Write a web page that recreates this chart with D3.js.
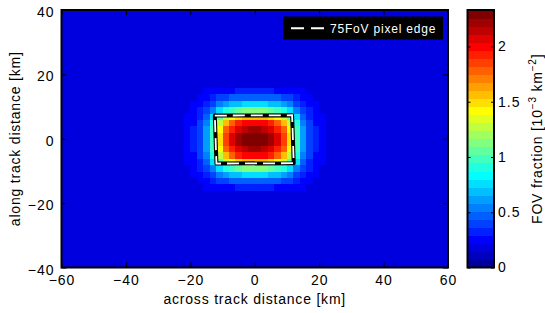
<!DOCTYPE html>
<html>
<head>
<meta charset="utf-8">
<script src="https://cdn.jsdelivr.net/npm/d3@7/dist/d3.min.js"></script>
<style>
body { margin: 0; background: #fff; }
text { font-family: "Liberation Sans", Arial, sans-serif; }
</style>
</head>
<body>
<div id="chart"></div>
<script>
const width = 545, height = 313;
const plot = {left: 61.5, right: 448, top: 10, bottom: 267.5};
const bar = {left: 467.5, right: 494};

// data
const xTicks = [-60, -40, -20, 0, 20, 40, 60];
const yTicks = [-40, -20, 0, 20, 40];
const cTicks = [0, 0.5, 1, 1.5, 2];
const colorMax = 2.33;
const background = 0.2;
const coreX = [-21, -19, -17, -15, -13, -11, -9, -7, -5, -3, -1, 1, 3, 5, 7, 9, 11, 13, 15, 17, 19, 21];
const coreY = [15, 13, 11, 9, 7, 5, 3, 1, -1, -3, -5, -7, -9, -11, -13, -15];
const coreValues = [
    [0.20, 0.21, 0.21, 0.22, 0.24, 0.27, 0.28, 0.29, 0.30, 0.30, 0.31, 0.31, 0.30, 0.30, 0.29, 0.28, 0.27, 0.24, 0.22, 0.21, 0.21, 0.20],
    [0.20, 0.21, 0.23, 0.26, 0.30, 0.37, 0.41, 0.44, 0.46, 0.47, 0.47, 0.47, 0.47, 0.46, 0.44, 0.41, 0.37, 0.30, 0.26, 0.23, 0.21, 0.20],
    [0.21, 0.23, 0.26, 0.31, 0.41, 0.54, 0.63, 0.68, 0.72, 0.74, 0.75, 0.75, 0.74, 0.72, 0.68, 0.63, 0.54, 0.41, 0.31, 0.26, 0.23, 0.21],
    [0.21, 0.25, 0.30, 0.39, 0.55, 0.77, 0.92, 1.01, 1.08, 1.11, 1.12, 1.12, 1.11, 1.08, 1.01, 0.92, 0.77, 0.55, 0.39, 0.30, 0.25, 0.21],
    [0.22, 0.27, 0.35, 0.49, 0.73, 1.06, 1.28, 1.42, 1.52, 1.57, 1.59, 1.59, 1.57, 1.52, 1.42, 1.28, 1.06, 0.73, 0.49, 0.35, 0.27, 0.22],
    [0.23, 0.29, 0.39, 0.57, 0.88, 1.31, 1.59, 1.77, 1.90, 1.97, 1.99, 1.99, 1.97, 1.90, 1.77, 1.59, 1.31, 0.88, 0.57, 0.39, 0.29, 0.23],
    [0.23, 0.30, 0.41, 0.62, 0.96, 1.44, 1.76, 1.96, 2.10, 2.18, 2.20, 2.20, 2.18, 2.10, 1.96, 1.76, 1.44, 0.96, 0.62, 0.41, 0.30, 0.23],
    [0.23, 0.31, 0.42, 0.64, 1.00, 1.50, 1.84, 2.05, 2.20, 2.28, 2.30, 2.30, 2.28, 2.20, 2.05, 1.84, 1.50, 1.00, 0.64, 0.42, 0.31, 0.23],
    [0.23, 0.31, 0.42, 0.64, 1.00, 1.50, 1.84, 2.05, 2.20, 2.28, 2.30, 2.30, 2.28, 2.20, 2.05, 1.84, 1.50, 1.00, 0.64, 0.42, 0.31, 0.23],
    [0.23, 0.30, 0.41, 0.62, 0.96, 1.44, 1.76, 1.96, 2.10, 2.18, 2.20, 2.20, 2.18, 2.10, 1.96, 1.76, 1.44, 0.96, 0.62, 0.41, 0.30, 0.23],
    [0.23, 0.29, 0.39, 0.57, 0.88, 1.31, 1.59, 1.77, 1.90, 1.97, 1.99, 1.99, 1.97, 1.90, 1.77, 1.59, 1.31, 0.88, 0.57, 0.39, 0.29, 0.23],
    [0.22, 0.27, 0.35, 0.49, 0.73, 1.06, 1.28, 1.42, 1.52, 1.57, 1.59, 1.59, 1.57, 1.52, 1.42, 1.28, 1.06, 0.73, 0.49, 0.35, 0.27, 0.22],
    [0.21, 0.25, 0.30, 0.39, 0.55, 0.77, 0.92, 1.01, 1.08, 1.11, 1.12, 1.12, 1.11, 1.08, 1.01, 0.92, 0.77, 0.55, 0.39, 0.30, 0.25, 0.21],
    [0.21, 0.23, 0.26, 0.31, 0.41, 0.54, 0.63, 0.68, 0.72, 0.74, 0.75, 0.75, 0.74, 0.72, 0.68, 0.63, 0.54, 0.41, 0.31, 0.26, 0.23, 0.21],
    [0.20, 0.21, 0.23, 0.26, 0.30, 0.37, 0.41, 0.44, 0.46, 0.47, 0.47, 0.47, 0.47, 0.46, 0.44, 0.41, 0.37, 0.30, 0.26, 0.23, 0.21, 0.20],
    [0.20, 0.21, 0.21, 0.22, 0.24, 0.27, 0.28, 0.29, 0.30, 0.30, 0.31, 0.31, 0.30, 0.30, 0.29, 0.28, 0.27, 0.24, 0.22, 0.21, 0.21, 0.20]
];
const pixelEdge = [[-12.4, 7.2], [11.6, 7.3], [12.1, -7.6], [-11.9, -7.7]];

// matlab style jet colormap with n levels
let jet = n => {
    let m = Math.ceil(n / 4);
    let u = [];
    for (let i = 1; i <= m; i++) u.push(i / m);
    for (let i = 1; i < m; i++) u.push(1);
    for (let i = m; i >= 1; i--) u.push(i / m);
    let off = Math.ceil(m / 2) - (n % 4 === 1 ? 1 : 0);
    let J = d3.range(n).map(() => [0, 0, 0]);
    u.forEach((val, k) => {
        let g = off + k + 1;
        if (g <= n) J[g - 1][1] = val;
        if (g + m <= n) J[g + m - 1][0] = val;
        if (g - m >= 1) J[g - m - 1][2] = val;
    });
    return J.map(c => d3.rgb(c[0] * 255, c[1] * 255, c[2] * 255).toString());
};

let svg = d3.select("#chart")
    .append("svg")
    .attr("width", width)
    .attr("height", height);

let x = d3.scaleLinear().domain([-60, 60]).range([plot.left, plot.right]);
let y = d3.scaleLinear().domain([-40, 40]).range([plot.bottom, plot.top]);
let c = d3.scaleLinear().domain([0, colorMax]).range([plot.bottom, plot.top]);
let color = d3.scaleQuantize().domain([0, colorMax]).range(jet(32));

// grid cells, 2 km
let lookup = new Map();
coreY.forEach((cy, i) => coreX.forEach((cx, j) => lookup.set(cx + "," + cy, coreValues[i][j])));
let cells = [];
d3.range(-59, 60, 2).forEach(cx => {
    d3.range(-39, 40, 2).forEach(cy => {
        let v = lookup.get(cx + "," + cy);
        cells.push({cx: cx, cy: cy, v: v === undefined ? background : v});
    });
});

svg.append("g")
    .attr("shape-rendering", "crispEdges")
    .selectAll("rect")
    .data(cells)
    .enter()
    .append("rect")
    .attr("x", d => x(d.cx - 1))
    .attr("y", d => y(d.cy + 1))
    .attr("width", d => x(d.cx + 1) - x(d.cx - 1) + 0.6)
    .attr("height", d => y(d.cy - 1) - y(d.cy + 1) + 0.6)
    .attr("fill", d => color(d.v));

// pixel edge outline
let edgeLine = d3.line()
    .x(d => x(d[0]))
    .y(d => y(d[1]))
    .curve(d3.curveLinearClosed);

svg.append("path")
    .attr("d", edgeLine(pixelEdge))
    .attr("fill", "none")
    .attr("stroke", "black")
    .attr("stroke-width", 4)
    .attr("stroke-linejoin", "round");

svg.append("path")
    .attr("d", edgeLine(pixelEdge))
    .attr("fill", "none")
    .attr("stroke", "white")
    .attr("stroke-width", 1.8)
    .attr("stroke-dasharray", "12,6");

// axes
let tickStyle = g => {
    g.select(".domain").remove();
    g.selectAll(".tick line").attr("stroke", "black").attr("stroke-width", 1);
    g.selectAll(".tick text")
        .attr("fill", "black")
        .style("font-size", "14px")
        .style("letter-spacing", "1px");
};

svg.append("g")
    .attr("transform", `translate(0, ${plot.bottom})`)
    .call(d3.axisBottom(x).tickValues(xTicks).tickSizeInner(-5).tickSizeOuter(0).tickPadding(8))
    .call(tickStyle);

svg.append("g")
    .attr("transform", `translate(0, ${plot.top})`)
    .call(d3.axisTop(x).tickValues(xTicks).tickSizeInner(-5).tickSizeOuter(0).tickFormat(""))
    .call(tickStyle);

svg.append("g")
    .attr("transform", `translate(${plot.left}, 0)`)
    .call(d3.axisLeft(y).tickValues(yTicks).tickSizeInner(-5).tickSizeOuter(0).tickPadding(7))
    .call(tickStyle)
    .selectAll(".tick text").attr("dy", "0.47em");

svg.append("g")
    .attr("transform", `translate(${plot.right}, 0)`)
    .call(d3.axisRight(y).tickValues(yTicks).tickSizeInner(-5).tickSizeOuter(0).tickFormat(""))
    .call(tickStyle);

svg.append("rect")
    .attr("x", plot.left)
    .attr("y", plot.top)
    .attr("width", plot.right - plot.left)
    .attr("height", plot.bottom - plot.top)
    .attr("fill", "none")
    .attr("stroke", "black")
    .attr("stroke-width", 2);

// legend
svg.append("rect")
    .attr("x", 283)
    .attr("y", 16.5)
    .attr("width", 160)
    .attr("height", 23)
    .attr("fill", "black");

svg.append("line")
    .attr("x1", 291)
    .attr("x2", 324)
    .attr("y1", 28.3)
    .attr("y2", 28.3)
    .attr("stroke", "white")
    .attr("stroke-width", 2)
    .attr("stroke-dasharray", "13,7");

svg.append("text")
    .attr("x", 330)
    .attr("y", 33)
    .attr("fill", "white")
    .style("font-size", "12px")
    .style("letter-spacing", "0.8px")
    .text("75FoV pixel edge");

// axis titles
svg.append("text")
    .attr("x", (plot.left + plot.right) / 2)
    .attr("y", 304)
    .style("text-anchor", "middle")
    .style("font-size", "14px")
    .style("letter-spacing", "0.8px")
    .text("across track distance [km]");

svg.append("text")
    .attr("transform", `translate(20, ${(plot.top + plot.bottom) / 2}) rotate(-90)`)
    .style("text-anchor", "middle")
    .style("font-size", "14px")
    .style("letter-spacing", "0.8px")
    .text("along track distance [km]");

// colorbar
svg.append("g")
    .attr("shape-rendering", "crispEdges")
    .selectAll("rect")
    .data(color.range())
    .enter()
    .append("rect")
    .attr("x", bar.left)
    .attr("width", bar.right - bar.left)
    .attr("y", d => c(color.invertExtent(d)[1]))
    .attr("height", d => c(color.invertExtent(d)[0]) - c(color.invertExtent(d)[1]) + 0.6)
    .attr("fill", d => d);

svg.append("g")
    .attr("transform", `translate(${bar.right}, 0)`)
    .call(d3.axisRight(c).tickValues(cTicks).tickSizeInner(-3).tickSizeOuter(0).tickPadding(4).tickFormat(d3.format("")))
    .call(tickStyle);

svg.append("g")
    .attr("transform", `translate(${bar.left}, 0)`)
    .call(d3.axisLeft(c).tickValues(cTicks).tickSizeInner(-3).tickSizeOuter(0).tickFormat(""))
    .call(tickStyle);

svg.append("rect")
    .attr("x", bar.left)
    .attr("y", plot.top)
    .attr("width", bar.right - bar.left)
    .attr("height", plot.bottom - plot.top)
    .attr("fill", "none")
    .attr("stroke", "black")
    .attr("stroke-width", 2);

let cLabel = svg.append("text")
    .attr("transform", `translate(542, ${(plot.top + plot.bottom) / 2}) rotate(-90)`)
    .style("text-anchor", "middle")
    .style("font-size", "14px")
    .style("letter-spacing", "0.8px");
cLabel.append("tspan").text("FOV fraction [10");
cLabel.append("tspan").attr("dy", -6).style("font-size", "10px").text("\u22123");
cLabel.append("tspan").attr("dy", 6).text(" km");
cLabel.append("tspan").attr("dy", -6).style("font-size", "10px").text("\u22122");
cLabel.append("tspan").attr("dy", 6).text("]");
</script>
</body>
</html>
